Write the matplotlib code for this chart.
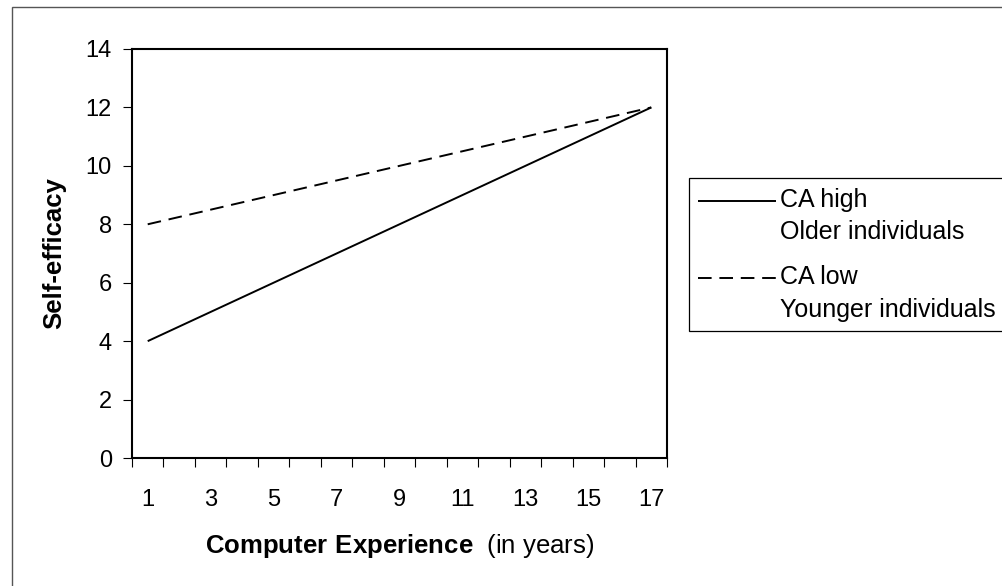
"""Self-efficacy vs computer experience, line chart."""
import matplotlib
matplotlib.use("Agg")
import matplotlib.pyplot as plt
import numpy as np
from matplotlib.legend_handler import HandlerLine2D
from matplotlib.lines import Line2D
from matplotlib.patches import Rectangle

plt.rcParams["font.family"] = ["Liberation Sans", "DejaVu Sans"]
plt.rcParams["mathtext.fontset"] = "custom"
plt.rcParams["mathtext.rm"] = "Liberation Sans"
plt.rcParams["mathtext.bf"] = "Liberation Sans:bold"

# data
years = [1, 2, 3, 4, 5, 6, 7, 8, 9, 10, 11, 12, 13, 14, 15, 16, 17]
year_labels = ["1", "3", "5", "7", "9", "11", "13", "15", "17"]
ca_high = [4.0, 4.5, 5.0, 5.5, 6.0, 6.5, 7.0, 7.5, 8.0, 8.5,
           9.0, 9.5, 10.0, 10.5, 11.0, 11.5, 12.0]
ca_low = [8.0, 8.25, 8.5, 8.75, 9.0, 9.25, 9.5, 9.75, 10.0, 10.25,
          10.5, 10.75, 11.0, 11.25, 11.5, 11.75, 12.0]
series_labels = ["CA high\nOlder individuals", "CA low\nYounger individuals"]


class TopLineHandler(HandlerLine2D):
    """Put the legend line next to the first text line, not the middle."""
    shift = 11.5

    def create_artists(self, legend, orig_handle, xdescent, ydescent,
                       width, height, fontsize, trans):
        arts = super().create_artists(legend, orig_handle, xdescent, ydescent,
                                      width, height, fontsize, trans)
        for a in arts:
            a.set_ydata(np.asarray(a.get_ydata()) + self.shift)
        return arts


fig = plt.figure(figsize=(10.02, 5.86), dpi=100)
fig.patch.set_facecolor("white")

# outer chart-area border (clipped at right / bottom like the scan)
fig.patches.append(Rectangle((0.012, -0.2), 1.2, 1.188, transform=fig.transFigure,
                             fill=False, edgecolor="#555555", linewidth=1.0))

ax = fig.add_axes([0.1317, 0.2184, 0.534, 0.698])

dash = (0, (7, 4))
l1, = ax.plot(years, ca_high, color="black", linewidth=1.4, solid_capstyle="butt")
l2, = ax.plot(years, ca_low, color="black", linewidth=1.4, linestyle=dash)

ax.set_xlim(0.5, 17.5)
ax.set_ylim(0, 14)
ax.set_yticks(np.arange(0, 15, 2))
ax.set_xticks(np.arange(0.5, 18, 1))
ax.set_xticklabels([])
ax.set_xticks(years[::2], minor=True)
ax.set_xticklabels(year_labels, minor=True)

ax.tick_params(axis="both", which="major", direction="out", length=6.5,
               width=0.8, color="black", labelsize=17, pad=8)
ax.tick_params(axis="x", which="minor", length=0, labelsize=17, pad=22)
for s in ax.spines.values():
    s.set_linewidth(1.5)
    s.set_color("black")

ax.set_ylabel("Self-efficacy", fontsize=18.5, fontweight="bold")
ax.yaxis.set_label_coords(-0.122, 0.5)
ax.set_xlabel(r"$\mathbf{Computer\ Experience}$  (in years)", fontsize=18.5)
ax.xaxis.set_label_coords(0.5, -0.18)

leg = fig.legend([l1, l2], series_labels, loc="upper left",
                 bbox_to_anchor=(0.6876, 0.6962), borderaxespad=0,
                 fontsize=18, frameon=True, fancybox=False, framealpha=1,
                 edgecolor="black", handlelength=3.1, handletextpad=0.15,
                 labelspacing=0.85, borderpad=0.38,
                 handler_map={Line2D: TopLineHandler()})
leg.get_frame().set_linewidth(0.9)
for t in leg.get_texts():
    t.set_linespacing(1.45)

fig.savefig("out.png", dpi=100, facecolor="white")
